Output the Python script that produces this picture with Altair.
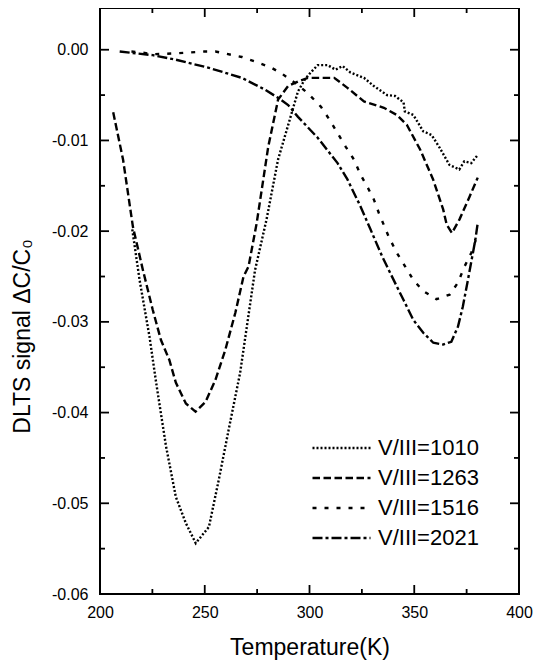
import altair as alt
import pandas as pd

# ---- data ----
series_names = ["V/III=1010", "V/III=1263", "V/III=1516", "V/III=2021"]

t_1010 = [215.4, 218.9, 223.6, 226.8, 231.5, 236.2, 241.0, 245.7, 252.0, 256.7, 261.4, 266.9,
          274.0, 279.5, 285.0, 294.5, 297.7, 300.6, 303.9, 308.7, 312.4, 315.8, 319.5, 326.0,
          330.7, 337.0, 340.8, 344.9, 345.5, 349.6, 354.3, 358.3, 362.1, 366.8, 371.5, 373.9,
          377.2, 380.3]
v_1010 = [-0.0198, -0.0254, -0.0316, -0.0367, -0.0437, -0.0493, -0.0522, -0.0544, -0.0526, -0.0474,
          -0.0419, -0.0356, -0.0243, -0.0187, -0.0121, -0.0046, -0.0033, -0.0025, -0.0017, -0.0017,
          -0.0022, -0.0018, -0.0025, -0.0031, -0.0040, -0.0050, -0.0051, -0.0058, -0.0068, -0.0072,
          -0.0090, -0.0094, -0.0108, -0.0127, -0.0132, -0.0123, -0.0125, -0.0116]

t_1263 = [206.3, 211.0, 215.7, 220.5, 225.2, 229.1, 233.1, 236.2, 241.0, 245.6, 250.4, 255.1,
          259.8, 264.6, 268.5, 270.9, 274.8, 280.3, 285.0, 289.8, 294.5, 299.2, 311.8, 318.1,
          326.0, 335.5, 341.7, 346.5, 352.8, 359.0, 363.8, 365.5, 368.0, 371.6, 376.4, 380.3]
v_1263 = [-0.0069, -0.0121, -0.0195, -0.0243, -0.0287, -0.0320, -0.0342, -0.0367, -0.0390, -0.0399,
          -0.0388, -0.0364, -0.0331, -0.0290, -0.0250, -0.0239, -0.0191, -0.0107, -0.0055, -0.0040,
          -0.0035, -0.0031, -0.0031, -0.0042, -0.0057, -0.0064, -0.0072, -0.0083, -0.0110, -0.0143,
          -0.0176, -0.0193, -0.0202, -0.0187, -0.0162, -0.0141]

t_1516 = [215.0, 219.7, 225.2, 236.2, 249.6, 255.1, 267.7, 274.0, 281.9, 286.6, 294.5, 299.2,
          305.5, 309.5, 313.4, 317.3, 321.2, 324.4, 327.6, 330.7, 333.1, 337.8, 341.7, 345.7,
          349.6, 354.3, 360.6, 366.9, 370.8, 374.0, 377.2, 379.5]
v_1516 = [-0.0002, -0.0003, -0.0005, -0.0004, -0.0002, -0.0002, -0.0008, -0.0013, -0.0020, -0.0026,
          -0.0039, -0.0048, -0.0063, -0.0077, -0.0092, -0.0107, -0.0121, -0.0138, -0.0151, -0.0165,
          -0.0180, -0.0206, -0.0224, -0.0239, -0.0254, -0.0266, -0.0275, -0.0270, -0.0257, -0.0239,
          -0.0224, -0.0209]

t_2021 = [209.4, 225.2, 236.2, 252.0, 267.7, 278.7, 285.0, 289.8, 294.5, 303.9, 313.4, 318.1,
          324.4, 329.1, 334.7, 340.2, 344.9, 349.6, 354.3, 359.1, 363.8, 367.7, 370.9, 373.2,
          375.6, 378.0, 379.2, 380.3]
v_2021 = [-0.0002, -0.0006, -0.0011, -0.0020, -0.0031, -0.0044, -0.0053, -0.0061, -0.0074, -0.0097,
          -0.0125, -0.0143, -0.0173, -0.0198, -0.0228, -0.0254, -0.0276, -0.0298, -0.0312, -0.0323,
          -0.0325, -0.0322, -0.0305, -0.0283, -0.0254, -0.0224, -0.0209, -0.0191]

x_major = [200, 250, 300, 350, 400]
x_minor = [225, 275, 325, 375]
y_major = [0.0, -0.01, -0.02, -0.03, -0.04, -0.05, -0.06]
y_minor = [-0.005, -0.015, -0.025, -0.035, -0.045, -0.055]

# ---- build tables ----
rows = []
for name, ts, vs in zip(series_names, [t_1010, t_1263, t_1516, t_2021],
                        [v_1010, v_1263, v_1516, v_2021]):
    for i, (t, v) in enumerate(zip(ts, vs)):
        rows.append({"series": name, "T": t, "V": v, "order": i})
df = pd.DataFrame(rows)

xmaj = pd.DataFrame({"T": x_major})
xmin = pd.DataFrame({"T": x_minor})
ymaj = pd.DataFrame({"V": y_major})
ymin = pd.DataFrame({"V": y_minor})

W, H = 419, 586
FONT = "Liberation Sans"

xscale = alt.Scale(domain=[200, 400], nice=False, zero=False)
yscale = alt.Scale(domain=[-0.06, 0.0046], nice=False, zero=False)

xaxis = alt.Axis(values=x_major, format="d", title="Temperature(K)", labelFontSize=16,
                 labelPadding=10, labelFlush=False, titleFontSize=23, titleFontWeight="normal",
                 titleX=W / 2, titleY=60, titleBaseline="alphabetic")
yaxis = alt.Axis(values=y_major,
                 labelExpr="datum.value == 0 ? '0.00' : '-' + format(abs(datum.value), '.2f')",
                 title="DLTS signal ΔC/C₀", labelFontSize=16, labelPadding=12, labelFlush=False,
                 titleFontSize=23, titleFontWeight="normal", titleAngle=270,
                 titleX=-71, titleY=328, titleBaseline="alphabetic", titleAlign="center")

X = alt.X("T:Q", scale=xscale, axis=xaxis)
Y = alt.Y("V:Q", scale=yscale, axis=yaxis)

lines = alt.Chart(df).mark_line(strokeWidth=2.4, color="black").encode(
    x=X,
    y=Y,
    order="order:Q",
    strokeDash=alt.StrokeDash(
        "series:N",
        scale=alt.Scale(domain=series_names,
                        range=[[2, 2], [7.5, 3.5], [4, 8], [10, 3, 3, 3]]),
        legend=alt.Legend(title=None, orient="none", legendX=211, legendY=429,
                          symbolType="stroke", symbolSize=3364, symbolStrokeWidth=2.4,
                          symbolStrokeColor="black", clipHeight=22, rowPadding=8,
                          labelFontSize=22, labelOffset=6, labelColor="black",
                          padding=0, labelFont=FONT),
    ),
)

def xticks(data, ln, top):
    if top:
        return alt.Chart(data).mark_rule(strokeWidth=1.8, color="black").encode(
            x=X, y=alt.value(0), y2=alt.value(ln))
    return alt.Chart(data).mark_rule(strokeWidth=1.8, color="black").encode(
        x=X, y=alt.value(H), y2=alt.value(H - ln))

def yticks(data, ln, right):
    if right:
        return alt.Chart(data).mark_rule(strokeWidth=1.8, color="black").encode(
            y=Y, x=alt.value(W), x2=alt.value(W - ln))
    return alt.Chart(data).mark_rule(strokeWidth=1.8, color="black").encode(
        y=Y, x=alt.value(0), x2=alt.value(ln))

chart = alt.layer(
    lines,
    xticks(xmaj, 9, False), xticks(xmin, 5, False), xticks(xmaj, 9, True), xticks(xmin, 5, True),
    yticks(ymaj, 9, False), yticks(ymin, 5, False), yticks(ymaj, 9, True), yticks(ymin, 5, True),
).properties(
    width=W, height=H,
    autosize=alt.AutoSizeParams(type="none"),
    padding={"left": 92, "top": 0, "right": 14, "bottom": 70},
).configure_view(
    stroke="black", strokeWidth=2
).configure_axis(
    domain=False, ticks=False, grid=False, labelColor="black", titleColor="black",
    labelFont=FONT, titleFont=FONT
).configure_legend(
    labelFont=FONT
)

chart.save("out.html", embed_options={"renderer": "svg", "actions": False})
